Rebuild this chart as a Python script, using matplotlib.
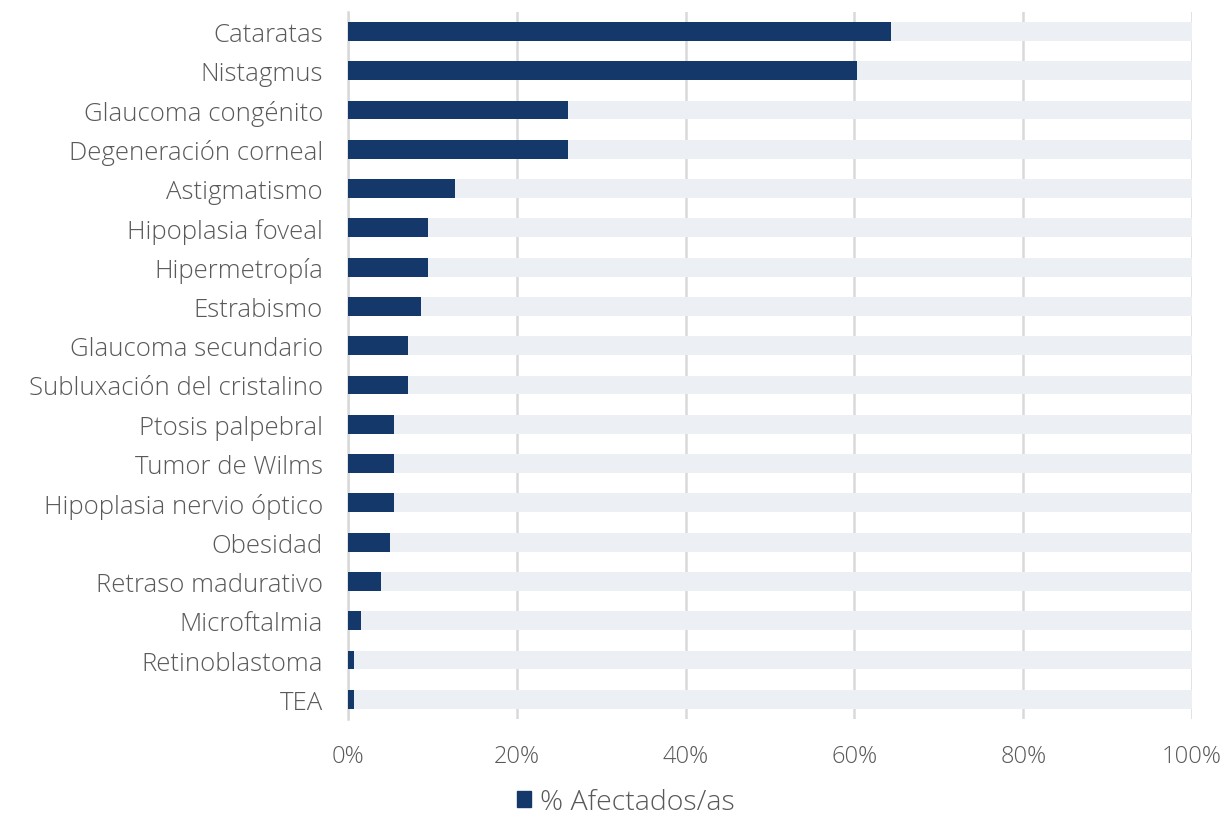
import matplotlib
matplotlib.use("Agg")
import matplotlib.pyplot as plt
from matplotlib.patches import Patch
from matplotlib.ticker import FuncFormatter

categories = ["Cataratas", "Nistagmus", "Glaucoma congénito", "Degeneración corneal",
              "Astigmatismo", "Hipoplasia foveal", "Hipermetropía", "Estrabismo",
              "Glaucoma secundario", "Subluxación del cristalino", "Ptosis palpebral",
              "Tumor de Wilms", "Hipoplasia nervio óptico", "Obesidad",
              "Retraso madurativo", "Microftalmia", "Retinoblastoma", "TEA"]
values = [64.3, 60.3, 26.1, 26.1, 12.7, 9.5, 9.5, 8.7, 7.1, 7.1, 5.5, 5.5, 5.5,
          5.0, 3.9, 1.5, 0.7, 0.7]
total = [100] * len(categories)
xticks = [0, 20, 40, 60, 80, 100]
series_name = "% Afectados/as"

plt.rcParams['font.family'] = ['Open Sans', 'DejaVu Sans']
text_color = "#595959"
dark = "#14386A"
light = "#ECEFF4"

fig = plt.figure(figsize=(12.27, 8.2), dpi=100)
ax = fig.add_axes([348/1227, 1 - 720/820, (1192-348)/1227, (720-12.7)/820])

y = list(range(len(categories)))
ax.barh(y, total, height=0.48, color=light, zorder=2)
ax.barh(y, values, height=0.48, color=dark, zorder=3)

ax.set_ylim(len(categories) - 0.5, -0.5)
ax.set_xlim(0, 100)
ax.set_yticks(y)
ax.set_yticklabels(categories, fontsize=18.5, color=text_color, fontweight='light')
ax.set_xticks(xticks)
ax.xaxis.set_major_formatter(FuncFormatter(lambda v, p: f"{v:.0f}%"))
ax.tick_params(axis='x', labelsize=17, colors=text_color, length=0, pad=18)
ax.tick_params(axis='y', length=0, pad=18)
for lab in ax.get_xticklabels():
    lab.set_color(text_color)
    lab.set_fontweight('light')

ax.grid(axis='x', color="#D9D9D9", linewidth=1.8, zorder=1)
ax.set_axisbelow(True)
for s in ["top", "right", "bottom"]:
    ax.spines[s].set_visible(False)
ax.spines["left"].set_color("#D9D9D9")
ax.spines["left"].set_linewidth(1.8)
ax.spines["left"].set_zorder(1)

handle = Patch(facecolor=dark, edgecolor=dark)
fig.legend([handle], [series_name], loc="center", bbox_to_anchor=(626/1227, 1 - 803/820),
           frameon=False, prop={'size': 20.5, 'weight': 'light'}, labelcolor=text_color,
           handlelength=0.5, handleheight=0.5, handletextpad=0.3, borderpad=0.1)

fig.savefig("out.png", dpi=100, facecolor="white")
